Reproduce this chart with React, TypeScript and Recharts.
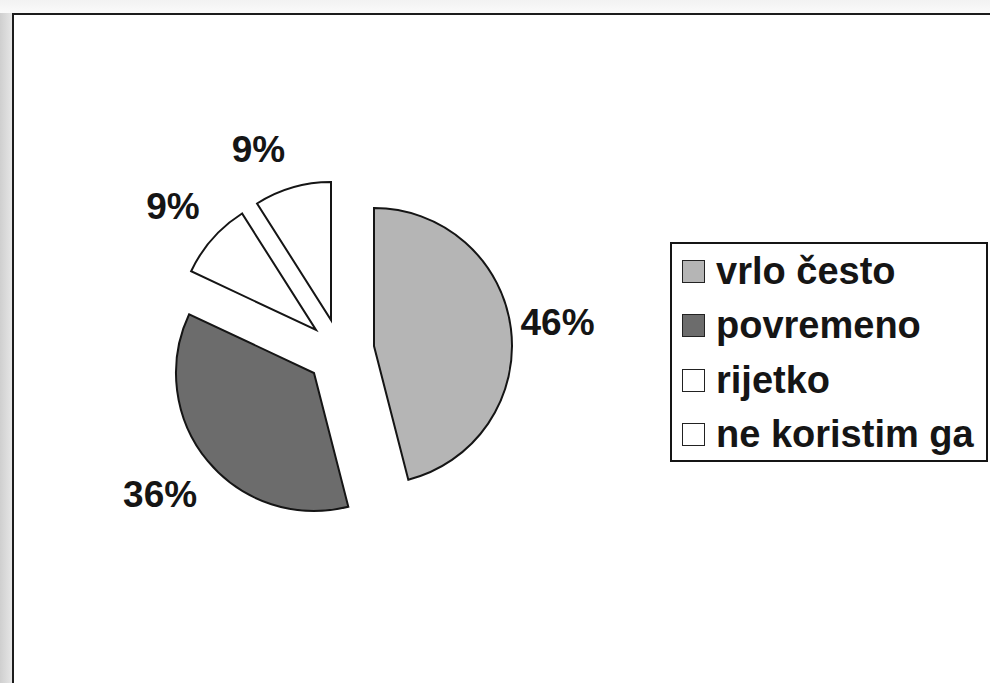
import React from 'react';
import { PieChart, Pie, Cell, Legend } from 'recharts';

const categories = ['vrlo često', 'povremeno', 'rijetko', 'ne koristim ga'];
const shares = [46, 36, 9, 9];
const colors = ['#b5b5b5', '#6c6c6c', '#ffffff', '#ffffff'];

const data = categories.map((name, i) => ({ name, value: shares[i] }));

const RADIAN = Math.PI / 180;
const FONT = '"Liberation Sans", Arial, Helvetica, sans-serif';

const makeLabel = (target: number, dx: number, dy: number) => (props: any) => {
  const { cx, cy, midAngle, outerRadius, percent, index } = props;
  if (index !== target) return null;
  const r = outerRadius + 50;
  const x = cx + r * Math.cos(-midAngle * RADIAN) + dx;
  const y = cy + r * Math.sin(-midAngle * RADIAN) + dy;
  return (
    <text
      x={x}
      y={y}
      textAnchor="middle"
      dominantBaseline="central"
      fill="#151515"
      fontSize={37}
      fontWeight="bold"
      fontFamily={FONT}
    >
      {`${Math.round(percent * 100)}%`}
    </text>
  );
};

const LegendBox = (props: any) => {
  const seen = new Set<string>();
  const items = (props.payload || [])
    .filter((p: any) => {
      if (p.type === 'none' || seen.has(p.value)) return false;
      seen.add(p.value);
      return true;
    })
    .sort((a: any, b: any) => categories.indexOf(a.value) - categories.indexOf(b.value));
  return (
    <div
      style={{
        boxSizing: 'border-box',
        width: 318,
        height: 220,
        border: '2px solid #151515',
        background: '#fff',
        fontFamily: FONT,
      }}
    >
      {items.map((p: any) => {
        const idx = categories.indexOf(p.value);
        return (
          <div
            key={p.value}
            style={{ position: 'relative', height: 54.3, lineHeight: '54.3px', whiteSpace: 'nowrap' }}
          >
            <span
              style={{
                position: 'absolute',
                left: 10,
                top: 16,
                width: 23,
                height: 23,
                boxSizing: 'border-box',
                border: '1.5px solid #222',
                background: colors[idx],
              }}
            />
            <span
              style={{
                position: 'absolute',
                left: 44,
                top: 0,
                fontSize: 38,
                fontWeight: 'bold',
                color: '#151515',
              }}
            >
              {p.value}
            </span>
          </div>
        );
      })}
    </div>
  );
};

const slices = [
  { cx: 374, cy: 346, dx: -3, dy: 0 },
  { cx: 314, cy: 373, dx: -9, dy: 2 },
  { cx: 316, cy: 330, dx: -2, dy: 1 },
  { cx: 331, cy: 320, dx: -20, dy: 10 },
];

export default function App() {
  return (
    <div
      style={{
        position: 'absolute',
        left: 0,
        top: 0,
        width: 990,
        height: 683,
        background: '#ffffff',
        overflow: 'hidden',
      }}
    >
      <div
        style={{
          position: 'absolute',
          left: 0,
          top: 0,
          width: 12,
          height: 683,
          background: 'linear-gradient(to right, #cfcfcf, #e6e6e6)',
        }}
      />
      <div
        style={{
          position: 'absolute',
          left: 0,
          top: 0,
          width: 990,
          height: 13,
          background: 'linear-gradient(to bottom, #f2f2f2, #fafafa)',
        }}
      />
      <div
        style={{
          position: 'absolute',
          left: 12,
          top: 13,
          width: 990,
          height: 700,
          borderTop: '2.5px solid #1c1c1c',
          borderLeft: '2.5px solid #1c1c1c',
          background: '#fff',
        }}
      />
      <div style={{ position: 'absolute', left: 0, top: 0 }}>
        <PieChart
          width={990}
          height={683}
          margin={{ top: 0, right: 0, bottom: 0, left: 0 }}
          style={{ fontFamily: FONT }}
        >
          {slices.map((s, k) => (
            <Pie
              key={categories[k]}
              data={data}
              dataKey="value"
              nameKey="name"
              cx={s.cx}
              cy={s.cy}
              outerRadius={138}
              startAngle={90}
              endAngle={-270}
              isAnimationActive={false}
              labelLine={false}
              label={makeLabel(k, s.dx, s.dy)}
              legendType={k === 0 ? 'square' : 'none'}
            >
              {data.map((d, i) => (
                <Cell
                  key={d.name}
                  fill={i === k ? colors[i] : 'none'}
                  stroke={i === k ? '#151515' : 'none'}
                  strokeWidth={i === k ? 2 : 0}
                />
              ))}
            </Pie>
          ))}
          <Legend
            layout="vertical"
            align="right"
            verticalAlign="top"
            itemSorter={null as any}
            content={<LegendBox />}
            wrapperStyle={{ position: 'absolute', left: 670, top: 242, width: 318, height: 220 }}
          />
        </PieChart>
      </div>
    </div>
  );
}
